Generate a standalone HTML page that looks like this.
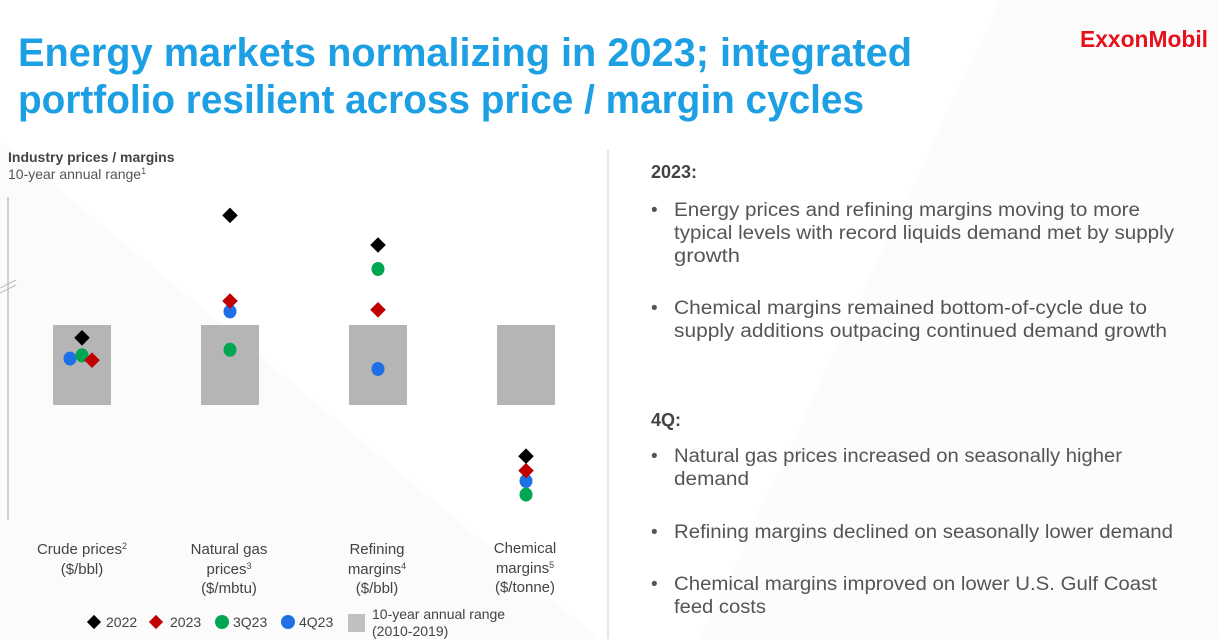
<!DOCTYPE html>
<html><head><meta charset="utf-8"><style>
html,body{margin:0;padding:0;background:#fff;}
svg{display:block;font-family:"Liberation Sans",sans-serif;}
</style></head><body>
<svg width="1218" height="639" viewBox="0 0 1218 639">
<polygon points="0,140 600,639 0,639" fill="#fbfbfb"/>
<polygon points="1000,0 1218,0 1218,639 700,639" fill="#fcfcfc"/>
<g fill="#1d9fe3" font-size="40" font-weight="bold">
<text x="18" y="66" textLength="894" lengthAdjust="spacingAndGlyphs">Energy markets normalizing in 2023; integrated</text>
<text x="18" y="113" textLength="846" lengthAdjust="spacingAndGlyphs">portfolio resilient across price / margin cycles</text>
</g>
<text x="1080" y="47" font-size="23" font-weight="bold" fill="#e8101b" textLength="128" lengthAdjust="spacingAndGlyphs">ExxonMobil</text>
<text x="8" y="162" font-size="14" font-weight="bold" fill="#444">Industry prices / margins</text>
<text x="8" y="179" font-size="14" fill="#555">10-year annual range<tspan font-size="9" dy="-5">1</tspan></text>
<line x1="608" y1="150" x2="608" y2="639" stroke="#e6e6e6" stroke-width="2"/>
<g id="chart"></g>
<g font-size="15" fill="#444" text-anchor="middle">
<text x="82" y="554">Crude prices<tspan font-size="9" dy="-5">2</tspan></text>
<text x="82" y="574">($/bbl)</text>
<text x="229" y="554">Natural gas</text>
<text x="229" y="574">prices<tspan font-size="9" dy="-5">3</tspan></text>
<text x="229" y="593">($/mbtu)</text>
<text x="377" y="554">Refining</text>
<text x="377" y="574">margins<tspan font-size="9" dy="-5">4</tspan></text>
<text x="377" y="593">($/bbl)</text>
<text x="525" y="553">Chemical</text>
<text x="525" y="573">margins<tspan font-size="9" dy="-5">5</tspan></text>
<text x="525" y="592">($/tonne)</text>
</g>
<g font-size="14" fill="#444">
<rect x="89" y="617" width="10" height="10" fill="#000" transform="rotate(45 94 622)"/><text x="106" y="627">2022</text>
<rect x="151" y="617" width="10" height="10" fill="#c00000" transform="rotate(45 156 622)"/><text x="170" y="627">2023</text>
<circle cx="222" cy="622" r="7" fill="#00a651"/><text x="233" y="627">3Q23</text>
<circle cx="288" cy="622" r="7" fill="#1f6fe6"/><text x="299" y="627">4Q23</text>
<rect x="348" y="614" width="17" height="18" fill="#c0c0c0"/>
<text x="372" y="619">10-year annual range</text><text x="372" y="636">(2010-2019)</text>
</g>
<g font-size="19" fill="#555">
<text x="651" y="178" font-weight="bold" font-size="18" fill="#444">2023:</text>
<text x="651" y="216">•</text><text x="674" y="216" textLength="466" lengthAdjust="spacingAndGlyphs">Energy prices and refining margins moving to more</text>
<text x="674" y="239" textLength="500" lengthAdjust="spacingAndGlyphs">typical levels with record liquids demand met by supply</text>
<text x="674" y="262" textLength="66" lengthAdjust="spacingAndGlyphs">growth</text>
<text x="651" y="314">•</text><text x="674" y="314" textLength="473" lengthAdjust="spacingAndGlyphs">Chemical margins remained bottom-of-cycle due to</text>
<text x="674" y="337" textLength="493" lengthAdjust="spacingAndGlyphs">supply additions outpacing continued demand growth</text>
<text x="651" y="426" font-weight="bold" font-size="18" fill="#444">4Q:</text>
<text x="651" y="462">•</text><text x="674" y="462" textLength="448" lengthAdjust="spacingAndGlyphs">Natural gas prices increased on seasonally higher</text>
<text x="674" y="485" textLength="75" lengthAdjust="spacingAndGlyphs">demand</text>
<text x="651" y="538">•</text><text x="674" y="538" textLength="499" lengthAdjust="spacingAndGlyphs">Refining margins declined on seasonally lower demand</text>
<text x="651" y="590">•</text><text x="674" y="590" textLength="483" lengthAdjust="spacingAndGlyphs">Chemical margins improved on lower U.S. Gulf Coast</text>
<text x="674" y="613" textLength="92" lengthAdjust="spacingAndGlyphs">feed costs</text>
</g>
</svg>
<script>
// values normalized to the 10-year range: 0 = range low, 1 = range high
const categories = ["Crude prices", "Natural gas prices", "Refining margins", "Chemical margins"];
const rangeLow = [0, 0, 0, 0];
const rangeHigh = [1, 1, 1, 1];
const v2022 = [0.84, 2.37, 2.0, -0.64];
const v2023 = [0.56, 1.3, 1.19, -0.82];
const v3Q23 = [0.62, 0.69, 1.7, -1.12];
const v4Q23 = [0.58, 1.17, 0.45, -0.95];

const NS = "http://www.w3.org/2000/svg";
const g = document.getElementById("chart");
const y = v => 405 - v * 80;
const x = i => 82 + i * 148;
function mk(tag, attrs) { const e = document.createElementNS(NS, tag); for (const k in attrs) e.setAttribute(k, attrs[k]); g.appendChild(e); return e; }

const axis = mk("line", {x1: 8, y1: 197, x2: 8, y2: 520, stroke: "#d0d0d0", "stroke-width": 2});


const br1 = mk("line", {x1: 0, y1: 288, x2: 16, y2: 280, stroke: "#bbb", "stroke-width": 1});


const br2 = mk("line", {x1: 0, y1: 293, x2: 16, y2: 285, stroke: "#bbb", "stroke-width": 1});



categories.forEach((c, i) => {
  const r = mk("rect", {x: x(i) - 29, y: y(rangeHigh[i]), width: 58, height: y(rangeLow[i]) - y(rangeHigh[i]), fill: "#b5b5b5"});
  
  
});
const crudeJitter = {d22: 0, d23: 10, q3: 0, q4: -12};
function diamond(cx, cy, col, name) {
  const d = mk("rect", {x: cx - 5.5, y: cy - 5.5, width: 11, height: 11, fill: col, transform: `rotate(45 ${cx} ${cy})`});
  
  
}
function dot(cx, cy, col, name) {
  const d = mk("ellipse", {cx: cx, cy: cy, rx: 6.5, ry: 7, fill: col});
  
  
}
categories.forEach((c, i) => {
  const j = i === 0 ? crudeJitter : {d22: 0, d23: 0, q3: 0, q4: 0};
  dot(x(i) + j.q4, y(v4Q23[i]), "#1f6fe6", "point-4q23");
  dot(x(i) + j.q3, y(v3Q23[i]), "#00a651", "point-3q23");
  diamond(x(i) + j.d23, y(v2023[i]), "#c00000", "point-2023");
  diamond(x(i) + j.d22, y(v2022[i]), "#000", "point-2022");
});
</script>
</body></html>
